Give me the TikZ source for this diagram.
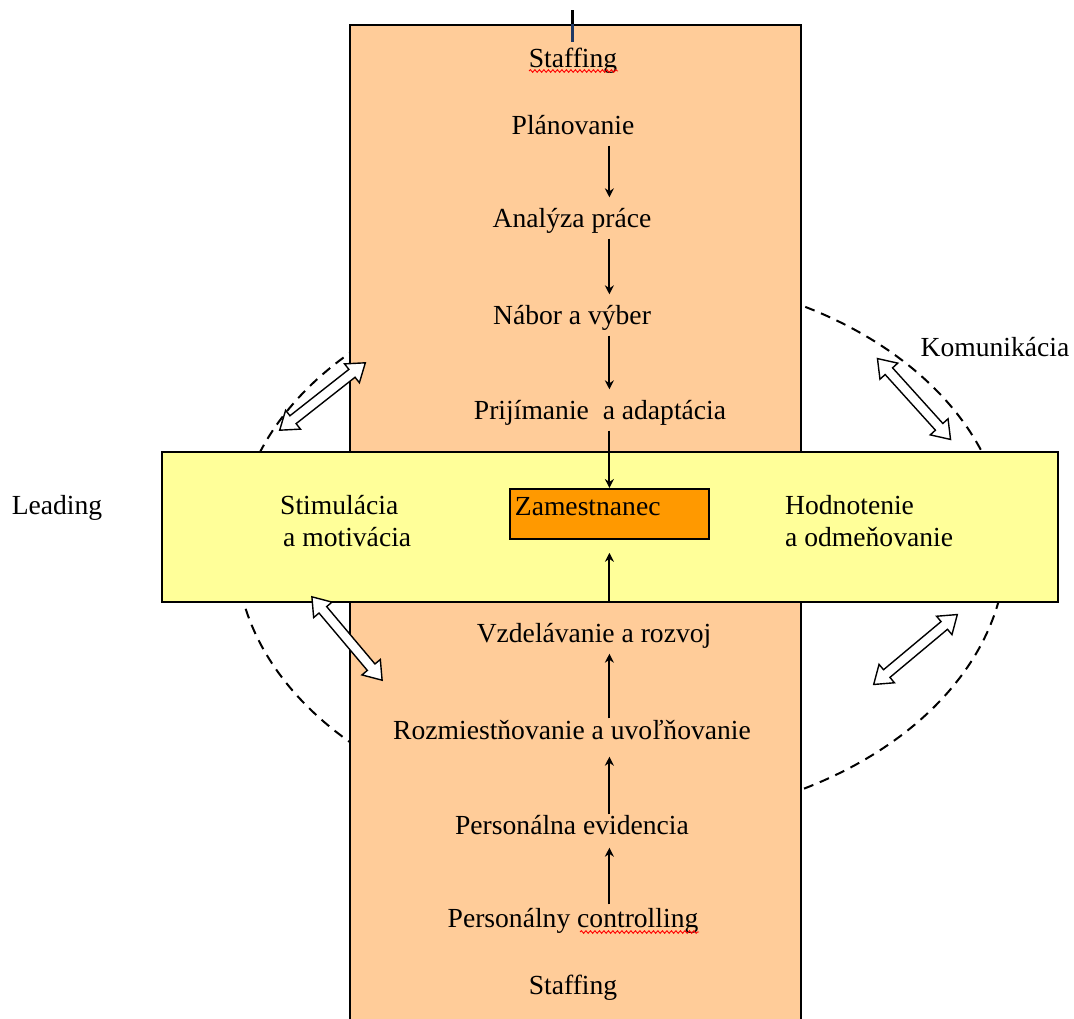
\documentclass[tikz,border=0pt]{standalone}
\usepackage{fontspec}
\setmainfont{Liberation Serif}
\usetikzlibrary{decorations.pathmorphing,arrows.meta}
\definecolor{peach}{HTML}{FFCC99}
\definecolor{ltyellow}{HTML}{FFFF99}
\definecolor{zamorange}{HTML}{FF9900}
\definecolor{cursorblue}{RGB}{31,56,100}
\begin{document}
\begin{tikzpicture}[x=1pt,y=-1pt,
  txt/.style={font=\fontsize{27.6}{32}\selectfont},
  lbl/.style={txt, inner xsep=0pt, inner ysep=8pt, text height=22pt, text depth=3pt},
  arr/.style={line width=1.9pt, -{Stealth[length=9pt,width=9pt]}},
  box/.style={draw, line width=1.8pt},
  squiggle/.style={red, line width=0.9pt, decorate, decoration={snake, amplitude=1.3pt, segment length=4.5pt}},
  dblarrow/.pic={
    \draw[line width=1.4pt, fill=white, line join=miter]
      (-54.5,0) -- (-37.5,12) -- (-37.5,5) -- (37.5,5) -- (37.5,12) -- (54.5,0)
      -- (37.5,-12) -- (37.5,-5) -- (-37.5,-5) -- (-37.5,-12) -- cycle;
  }]
\useasboundingbox (0,0) rectangle (1074,1018);
\clip (0,0) rectangle (1074,1018);
% dashed ellipse behind everything
\draw[line width=2pt, dash pattern=on 10pt off 7pt] (621,547.5) ellipse [x radius=385pt, y radius=274pt];
% rectangles
\node[box, fill=peach, minimum width=451pt, minimum height=1010pt, anchor=north west, inner sep=0pt] (col) at (349,24) {};
\node[box, fill=ltyellow, minimum width=896pt, minimum height=150pt, anchor=north west, inner sep=0pt] (band) at (161,451) {};
% cursor tick
\coordinate (tick) at (572,10);
\draw[line width=3pt] (tick) -- (tick |- col.north);
\draw[line width=3pt, cursorblue] (tick |- col.north) -- ++(0,18);
% central box
\node[box, fill=zamorange, anchor=north west, minimum width=199pt, minimum height=50pt,
  text width=189pt, inner xsep=5pt, inner ysep=0pt, align=left, txt,
  text height=19pt, text depth=16pt] (zam) at (509,488) {Zamestnanec};
% column texts
\node[lbl] (s1) at (573,58) {Staffing};
\node[lbl] (plan) at (573,125) {Plánovanie};
\node[lbl] (anal) at (572,218) {Analýza práce};
\node[lbl] (nabor) at (572,315) {Nábor a výber};
\node[lbl] (prij) at (600,410) {Prijímanie \ a adaptácia};
\node[lbl] (vzd) at (594,633) {Vzdelávanie a rozvoj};
\node[lbl] (rozm) at (572,730) {Rozmiestňovanie a uvoľňovanie};
\node[lbl] (pers) at (572,825) {Personálna evidencia};
\node[lbl] (contr) at (573,918) {Personálny controlling};
\node[lbl] (s2) at (573,985) {Staffing};
% side texts
\node[lbl] (lead) at (57,505) {Leading};
\node[lbl] (kom) at (995,347) {Komunikácia};
\node[txt, align=left, anchor=west, inner sep=0pt] (stim) at (280,521) {Stimulácia\\\hspace*{3pt}a motivácia};
\node[txt, align=left, anchor=west, inner sep=0pt] (hodn) at (785,521) {Hodnotenie\\a odmeňovanie};
% spell-check squiggles
\draw[squiggle] (529,71) -- (618,71);
\draw[squiggle] (580,932) -- (699,932);
% flow arrows
\draw[arr] (plan.south -| zam) -- (anal.north -| zam);
\draw[arr] (anal.south -| zam) -- (nabor.north -| zam);
\draw[arr] (nabor.south -| zam) -- (prij.north -| zam);
\draw[arr] (prij.south -| zam) -- (zam.north);
\draw[arr, shorten >=13pt] (band.south -| zam) -- (zam.south);
\draw[arr, shorten <=-9pt] (rozm.north -| zam) -- (vzd.south -| zam);
\draw[arr, shorten <=-10pt, shorten >=6pt] (pers.north -| zam) -- (rozm.south -| zam);
\draw[arr, shorten <=-7pt, shorten >=2pt] (contr.north -| zam) -- (pers.south -| zam);
% double arrows
\pic[rotate=38.2] at (322.5,396.5) {dblarrow};
\pic[rotate=-47.9] at (914,399) {dblarrow};
\pic[rotate=-49.9] at (347,638.5) {dblarrow};
\pic[rotate=39.9] at (915.5,649.5) {dblarrow};
\end{tikzpicture}
\end{document}
